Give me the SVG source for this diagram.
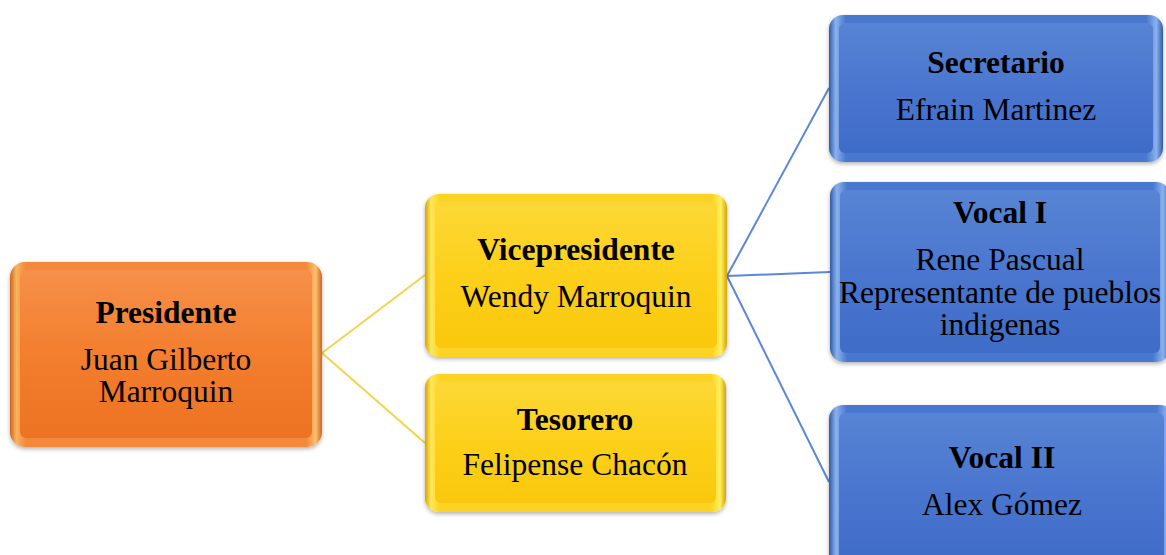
<svg xmlns="http://www.w3.org/2000/svg" width="1166" height="555" viewBox="0 0 1166 555">
<defs>
<linearGradient id="oEdge" x1="0" y1="0" x2="1" y2="0">
<stop offset="0" stop-color="#d0641c"/><stop offset="0.02" stop-color="#f9b45e"/><stop offset="0.05" stop-color="#f5893a"/><stop offset="0.95" stop-color="#f5893a"/><stop offset="0.98" stop-color="#f9c070"/><stop offset="1" stop-color="#d0641c"/>
</linearGradient>
<linearGradient id="oFill" x1="0" y1="0" x2="0" y2="1">
<stop offset="0" stop-color="#f6904a"/><stop offset="0.5" stop-color="#f37e2e"/><stop offset="1" stop-color="#ec7322"/>
</linearGradient>
<linearGradient id="yEdge" x1="0" y1="0" x2="1" y2="0">
<stop offset="0" stop-color="#d6a400"/><stop offset="0.02" stop-color="#fde85a"/><stop offset="0.05" stop-color="#fcd322"/><stop offset="0.95" stop-color="#fcd322"/><stop offset="0.98" stop-color="#fdf060"/><stop offset="1" stop-color="#d6a400"/>
</linearGradient>
<linearGradient id="yFill" x1="0" y1="0" x2="0" y2="1">
<stop offset="0" stop-color="#fdd835"/><stop offset="0.5" stop-color="#fcd01a"/><stop offset="1" stop-color="#f9c80c"/>
</linearGradient>
<linearGradient id="bEdge" x1="0" y1="0" x2="1" y2="0">
<stop offset="0" stop-color="#2f5aa8"/><stop offset="0.02" stop-color="#8cb2ec"/><stop offset="0.05" stop-color="#4a78d0"/><stop offset="0.95" stop-color="#4a78d0"/><stop offset="0.98" stop-color="#8cb2ec"/><stop offset="1" stop-color="#2f5aa8"/>
</linearGradient>
<linearGradient id="bFill" x1="0" y1="0" x2="0" y2="1">
<stop offset="0" stop-color="#5884d4"/><stop offset="0.5" stop-color="#4a76cf"/><stop offset="1" stop-color="#3f6cc8"/>
</linearGradient>
<filter id="sh" x="-5%" y="-5%" width="110%" height="115%">
<feDropShadow dx="0" dy="2" stdDeviation="2" flood-color="#000" flood-opacity="0.3"/>
</filter>
</defs>
<style>
text{font-family:"Liberation Serif","Times New Roman",serif;font-size:31.5px;fill:#000;text-anchor:middle}
.t{font-weight:bold}
.con{fill:none;stroke-width:2}
.cy{stroke:#f6d34c}
.cb{stroke:#5b87d6}
.box{filter:url(#sh)}
</style>
<rect width="1166" height="555" fill="#ffffff"/>
<g id="connectors">
<path class="con cy" d="M322,353 L425,275"/>
<path class="con cy" d="M322,353 L425,443"/>
<path class="con cb" d="M727,276 L829,88"/>
<path class="con cb" d="M727,276 L830,272"/>
<path class="con cb" d="M727,276 L829,482"/>
</g>
<g id="presidente">
<rect class="box" x="10" y="262" width="312" height="185" rx="15" fill="url(#oEdge)"/>
<rect x="20" y="270" width="292" height="168" rx="6" fill="url(#oFill)"/>
<text x="166" y="323" class="t">Presidente</text>
<text x="166" y="370">Juan Gilberto</text>
<text x="166" y="402">Marroquin</text>
</g>
<g id="vicepresidente">
<rect class="box" x="425" y="194" width="302" height="163" rx="14" fill="url(#yEdge)"/>
<rect x="435" y="202" width="282" height="146" rx="6" fill="url(#yFill)"/>
<text x="576" y="260" class="t">Vicepresidente</text>
<text x="576" y="307">Wendy Marroquin</text>
</g>
<g id="tesorero">
<rect class="box" x="425" y="374" width="301" height="138" rx="14" fill="url(#yEdge)"/>
<rect x="435" y="382" width="281" height="121" rx="6" fill="url(#yFill)"/>
<text x="575" y="430" class="t">Tesorero</text>
<text x="575" y="475">Felipense Chacón</text>
</g>
<g id="secretario">
<rect class="box" x="829" y="15" width="334" height="147" rx="14" fill="url(#bEdge)"/>
<rect x="839" y="23" width="314" height="130" rx="6" fill="url(#bFill)"/>
<text x="996" y="73" class="t">Secretario</text>
<text x="996" y="120">Efrain Martinez</text>
</g>
<g id="vocal1">
<rect class="box" x="830" y="182" width="340" height="180" rx="14" fill="url(#bEdge)"/>
<rect x="840" y="190" width="320" height="163" rx="6" fill="url(#bFill)"/>
<text x="1000" y="223" class="t">Vocal I</text>
<text x="1000" y="270">Rene Pascual</text>
<text x="1000" y="303">Representante de pueblos</text>
<text x="1000" y="335">indigenas</text>
</g>
<g id="vocal2">
<rect class="box" x="829" y="405" width="345" height="165" rx="14" fill="url(#bEdge)"/>
<rect x="839" y="413" width="325" height="150" rx="6" fill="url(#bFill)"/>
<text x="1002" y="468" class="t">Vocal II</text>
<text x="1002" y="515">Alex Gómez</text>
</g>
</svg>
